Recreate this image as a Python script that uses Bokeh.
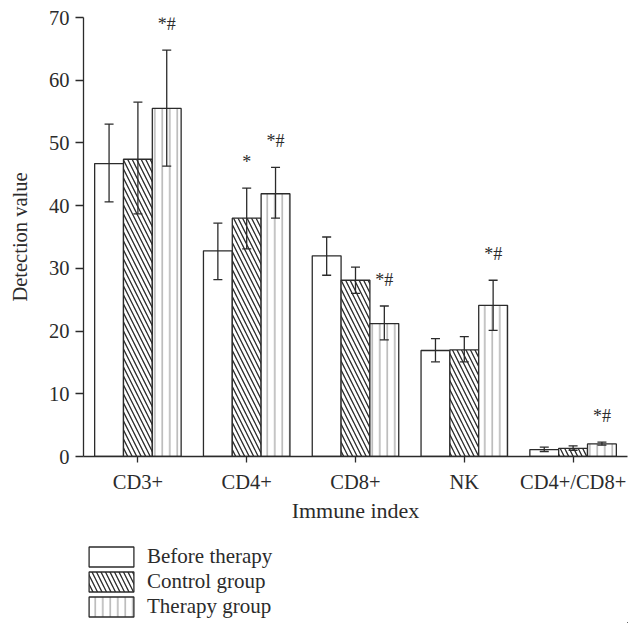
from bokeh.plotting import figure
from bokeh.layouts import column
from bokeh.models import (ColumnDataSource, FactorRange, Range1d, Whisker, TeeHead, Legend,
                          LegendItem, SingleIntervalTicker)
from bokeh.transform import dodge
from bokeh.core.properties import value
from bokeh.embed import file_html
from bokeh.resources import INLINE

categories = ["CD3+", "CD4+", "CD8+", "NK", "CD4+/CD8+"]
series = ["Before therapy", "Control group", "Therapy group"]

before_mean = [46.7, 32.8, 32.0, 16.9, 1.1]
before_lo = [40.6, 28.2, 28.9, 15.1, 0.8]
before_hi = [53.0, 37.2, 35.0, 18.8, 1.5]

control_mean = [47.4, 38.0, 28.1, 17.0, 1.3]
control_lo = [38.7, 33.1, 26.0, 15.1, 1.0]
control_hi = [56.5, 42.8, 30.2, 19.1, 1.7]

therapy_mean = [55.5, 41.9, 21.2, 24.1, 2.0]
therapy_lo = [46.3, 38.0, 18.6, 20.1, 1.8]
therapy_hi = [64.8, 46.1, 24.0, 28.1, 2.3]

control_sig = ["", "*", "", "", ""]
therapy_sig = ["*#", "*#", "*#", "*#", "*#"]

FONT = "Liberation Serif"
INK = "#2b2b2b"
W = 641

p = figure(x_range=FactorRange(*categories, range_padding=0), y_range=(0, 70),
           width=W, height=530, output_backend="svg", toolbar_location=None,
           min_border_left=83, min_border_right=14, min_border_top=17, min_border_bottom=74)
p.x_range.factor_padding = 0
p.outline_line_color = None
p.grid.visible = False
p.background_fill_color = "white"

bw = 0.265
offs = [-bw, 0.0, bw]
means = [before_mean, control_mean, therapy_mean]
los = [before_lo, control_lo, therapy_lo]
his = [before_hi, control_hi, therapy_hi]
hatches = [dict(), dict(hatch_pattern="\\", hatch_scale=9, hatch_weight=1.3, hatch_color=INK),
           dict(hatch_pattern="|", hatch_scale=7.5, hatch_weight=1.0, hatch_color="#8c8c8c")]

sources = []
for i in range(3):
    src = ColumnDataSource(dict(cat=categories, m=means[i], lo=los[i], hi=his[i]))
    sources.append(src)
    p.vbar(x=dodge("cat", offs[i], range=p.x_range), top="m", width=bw, source=src,
           fill_color="white", line_color=INK, line_width=1.3, **hatches[i])
    w = Whisker(base=dodge("cat", offs[i], range=p.x_range), lower="lo", upper="hi", source=src,
                line_color=INK, line_width=1.3, level="overlay",
                upper_head=TeeHead(size=9, line_color=INK, line_width=1.3),
                lower_head=TeeHead(size=9, line_color=INK, line_width=1.3))
    p.add_layout(w)

sig_src_c = ColumnDataSource(dict(cat=categories, y=control_hi, t=control_sig))
sig_src_t = ColumnDataSource(dict(cat=categories, y=therapy_hi, t=therapy_sig))
for s, off in [(sig_src_c, offs[1]), (sig_src_t, offs[2])]:
    p.text(x=dodge("cat", off, range=p.x_range), y="y", text="t", source=s,
           text_font=value(FONT), text_font_size="18px", text_color=INK,
           text_align="center", text_baseline="middle", y_offset=-26)

p.yaxis.ticker = SingleIntervalTicker(interval=10)
p.yaxis.minor_tick_line_color = None
p.yaxis.major_tick_out = 8
p.yaxis.major_tick_in = 0
p.xaxis.major_tick_out = 6
p.xaxis.major_tick_in = 0
for ax in [p.xaxis, p.yaxis]:
    ax.axis_line_color = INK
    ax.axis_line_width = 1.3
    ax.major_tick_line_color = INK
    ax.major_tick_line_width = 1.3
    ax.major_label_text_font = FONT
    ax.major_label_text_font_size = "20.5px"
    ax.major_label_text_color = INK
    ax.axis_label_text_font = FONT
    ax.axis_label_text_font_style = "normal"
    ax.axis_label_text_color = INK
p.xaxis.axis_label = "Immune index"
p.yaxis.axis_label = "Detection value"
p.xaxis.axis_label_text_font_size = "22px"
p.yaxis.axis_label_text_font_size = "20.5px"
p.xaxis.major_label_standoff = 8
p.yaxis.major_label_standoff = 6
p.xaxis.axis_label_standoff = 2
p.yaxis.axis_label_standoff = 15

# legend panel below the chart (its sample bars are placed outside its visible area)
p2 = figure(width=W, height=93, output_backend="svg", toolbar_location=None,
            x_range=FactorRange(*categories), y_range=Range1d(1000, 1010),
            min_border_left=83, min_border_top=14, min_border_right=0, min_border_bottom=0)
p2.axis.visible = False
p2.grid.visible = False
p2.outline_line_color = None
legend_renderers = []
for i in range(3):
    r = p2.vbar(x=dodge("cat", 20, range=p2.x_range), top="m", width=bw, source=sources[i],
                fill_color="white", line_color=INK, line_width=1.3, **hatches[i])
    legend_renderers.append(r)
legend = Legend(items=[LegendItem(label=series[i], renderers=[legend_renderers[i]]) for i in range(3)],
                location="top_left", orientation="vertical",
                glyph_width=56, glyph_height=25, spacing=0, padding=0, margin=0,
                label_standoff=8, label_text_font=FONT, label_text_font_size="21px",
                label_text_color=INK, label_height=25,
                border_line_color=None, background_fill_alpha=0)
p2.add_layout(legend, "center")

layout = column(p, p2, spacing=0)
open("out.html", "w").write(file_html(layout, INLINE))
